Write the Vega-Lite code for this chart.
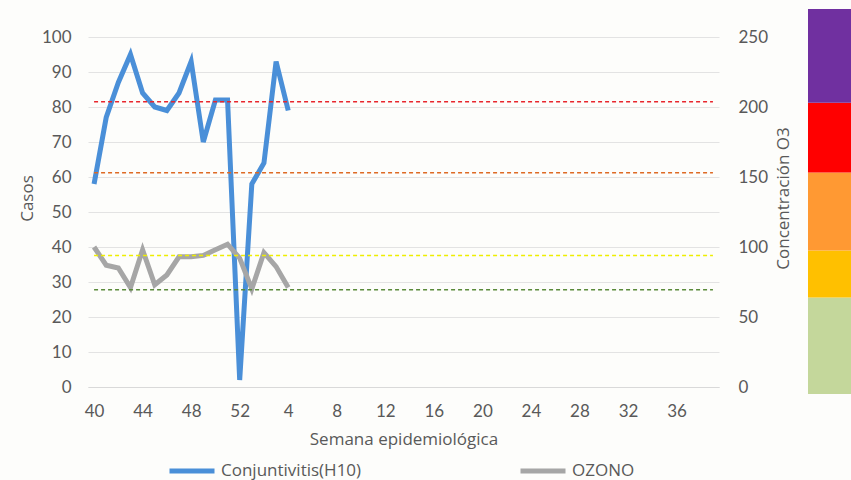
{
  "$schema": "https://vega.github.io/schema/vega-lite/v6.json",
  "background": "#fdfdfb",
  "padding": {"left": 18, "top": 9, "right": 0, "bottom": 0},
  "bounds": "flush",
  "spacing": 89,
  "config": {
    "view": {"stroke": null},
    "font": "Open Sans",
    "axis": {
      "labelColor": "#595959",
      "titleColor": "#595959",
      "labelFontSize": 17,
      "titleFontSize": 17,
      "titleFontWeight": "normal",
      "labelFont": "Lato",
      "titleFont": "Open Sans",
      "ticks": false,
      "tickSize": 0,
      "domain": false,
      "grid": false
    },
    "legend": {"labelFont": "Open Sans"}
  },
  "datasets": {
    "series": [
      {"semana": 40, "serie": "Conjuntivitis(H10)", "valor": 58},
      {"semana": 41, "serie": "Conjuntivitis(H10)", "valor": 77},
      {"semana": 42, "serie": "Conjuntivitis(H10)", "valor": 87},
      {"semana": 43, "serie": "Conjuntivitis(H10)", "valor": 95},
      {"semana": 44, "serie": "Conjuntivitis(H10)", "valor": 84},
      {"semana": 45, "serie": "Conjuntivitis(H10)", "valor": 80},
      {"semana": 46, "serie": "Conjuntivitis(H10)", "valor": 79},
      {"semana": 47, "serie": "Conjuntivitis(H10)", "valor": 84},
      {"semana": 48, "serie": "Conjuntivitis(H10)", "valor": 93},
      {"semana": 49, "serie": "Conjuntivitis(H10)", "valor": 70},
      {"semana": 50, "serie": "Conjuntivitis(H10)", "valor": 82},
      {"semana": 51, "serie": "Conjuntivitis(H10)", "valor": 82},
      {"semana": 52, "serie": "Conjuntivitis(H10)", "valor": 2},
      {"semana": 1, "serie": "Conjuntivitis(H10)", "valor": 58},
      {"semana": 2, "serie": "Conjuntivitis(H10)", "valor": 64},
      {"semana": 3, "serie": "Conjuntivitis(H10)", "valor": 93},
      {"semana": 4, "serie": "Conjuntivitis(H10)", "valor": 79},
      {"semana": 40, "serie": "OZONO", "valor": 100},
      {"semana": 41, "serie": "OZONO", "valor": 87},
      {"semana": 42, "serie": "OZONO", "valor": 85},
      {"semana": 43, "serie": "OZONO", "valor": 71},
      {"semana": 44, "serie": "OZONO", "valor": 98},
      {"semana": 45, "serie": "OZONO", "valor": 73},
      {"semana": 46, "serie": "OZONO", "valor": 80},
      {"semana": 47, "serie": "OZONO", "valor": 93},
      {"semana": 48, "serie": "OZONO", "valor": 93},
      {"semana": 49, "serie": "OZONO", "valor": 94},
      {"semana": 50, "serie": "OZONO", "valor": 98},
      {"semana": 51, "serie": "OZONO", "valor": 102},
      {"semana": 52, "serie": "OZONO", "valor": 92},
      {"semana": 1, "serie": "OZONO", "valor": 70},
      {"semana": 2, "serie": "OZONO", "valor": 96},
      {"semana": 3, "serie": "OZONO", "valor": 86},
      {"semana": 4, "serie": "OZONO", "valor": 71}
    ],
    "umbrales": [
      {"umbral": "rojo", "casos": 81.5},
      {"umbral": "naranja", "casos": 61.2},
      {"umbral": "amarillo", "casos": 37.6},
      {"umbral": "verde", "casos": 27.8}
    ],
    "niveles": [
      {"categoria": "verde", "desde": 0, "hasta": 68},
      {"categoria": "amarillo", "desde": 68, "hasta": 101},
      {"categoria": "naranja", "desde": 101, "hasta": 156},
      {"categoria": "rojo", "desde": 156, "hasta": 205},
      {"categoria": "morado", "desde": 205, "hasta": 271}
    ]
  },
  "hconcat": [
    {
      "width": 631,
      "height": 378,
      "layer": [
        {
          "data": {"name": "series"},
          "transform": [{"filter": "datum.serie === 'Conjuntivitis(H10)'"}],
          "mark": {"type": "line", "strokeWidth": 5, "strokeJoin": "miter"},
          "encoding": {
            "x": {
              "field": "semana",
              "type": "ordinal",
              "scale": {"type": "point", "padding": 0.5, "domain": [40,41,42,43,44,45,46,47,48,49,50,51,52,1,2,3,4,5,6,7,8,9,10,11,12,13,14,15,16,17,18,19,20,21,22,23,24,25,26,27,28,29,30,31,32,33,34,35,36,37,38,39]},
              "sort": null,
              "axis": {
                "title": "Semana epidemiológica",
                "values": [40,44,48,52,4,8,12,16,20,24,28,32,36],
                "labelAngle": 0,
                "domain": true,
                "domainColor": "#d9d9d9",
                "domainWidth": 1,
                "labelPadding": 16,
                "titlePadding": 12
              }
            },
            "y": {
              "field": "valor",
              "type": "quantitative",
              "scale": {"domain": [0, 108], "nice": false, "zero": true},
              "axis": {
                "title": "Casos",
                "orient": "left",
                "values": [0,10,20,30,40,50,60,70,80,90,100],
                "grid": true,
                "gridColor": "#e3e3e3",
                "gridWidth": 1,
                "labelPadding": 17,
                "titlePadding": 5
              }
            },
            "color": {
              "field": "serie",
              "type": "nominal",
              "scale": {"domain": ["Conjuntivitis(H10)", "OZONO"], "range": ["#4a8fd8", "#a6a6a6"]},
              "legend": {
                "title": null,
                "orient": "none",
                "legendX": 79,
                "legendY": 437,
                "direction": "horizontal",
                "symbolType": "stroke",
                "symbolSize": 2025,
                "symbolStrokeWidth": 5,
                "labelFontSize": 17,
                "labelColor": "#595959",
                "labelOffset": 4,
                "columnPadding": 148
              }
            }
          }
        },
        {
          "data": {"name": "series"},
          "transform": [{"filter": "datum.serie === 'OZONO'"}],
          "mark": {"type": "line", "strokeWidth": 5, "strokeJoin": "miter"},
          "encoding": {
            "x": {"field": "semana", "type": "ordinal", "sort": null},
            "y": {
              "field": "valor",
              "type": "quantitative",
              "scale": {"domain": [0, 270], "nice": false, "zero": true},
              "axis": {
                "title": "Concentración O3",
                "orient": "right",
                "values": [0,50,100,150,200,250],
                "labelPadding": 19,
                "titlePadding": 25,
                "titleAngle": 270
              }
            },
            "color": {"field": "serie", "type": "nominal"}
          }
        },
        {
          "data": {"name": "umbrales"},
          "mark": {"type": "rule", "strokeWidth": 1.5, "strokeDash": [4, 3]},
          "encoding": {
            "x": {"datum": 40, "type": "ordinal"},
            "x2": {"datum": 39},
            "y": {
              "field": "casos",
              "type": "quantitative",
              "scale": {"domain": [0, 108], "nice": false, "zero": true},
              "axis": null
            },
            "stroke": {
              "field": "umbral",
              "type": "nominal",
              "scale": {"domain": ["rojo", "naranja", "amarillo", "verde"], "range": ["#e8262c", "#de6a24", "#eeee00", "#5a8a3a"]},
              "legend": null
            }
          }
        }
      ],
      "resolve": {"scale": {"y": "independent"}}
    },
    {
      "width": 45,
      "height": 385,
      "data": {"name": "niveles"},
      "mark": {"type": "rect"},
      "encoding": {
        "y": {"field": "desde", "type": "quantitative", "scale": {"domain": [0, 271], "nice": false}, "axis": null},
        "y2": {"field": "hasta"},
        "fill": {
          "field": "categoria",
          "type": "nominal",
          "scale": {"domain": ["verde", "amarillo", "naranja", "rojo", "morado"], "range": ["#c4d79b", "#ffc000", "#ff9933", "#ff0000", "#7030a0"]},
          "legend": null
        }
      }
    }
  ]
}
